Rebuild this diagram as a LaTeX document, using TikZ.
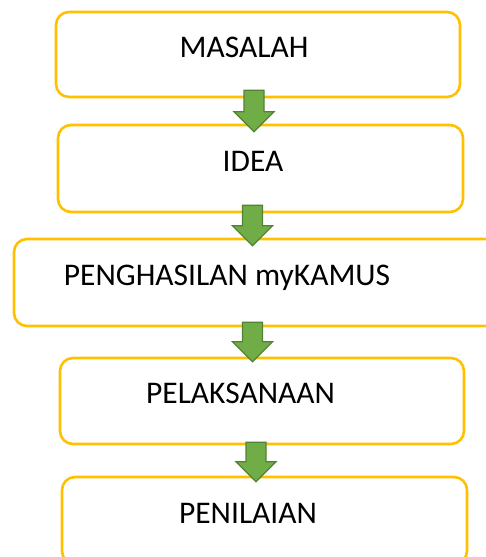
\documentclass[tikz,border=0pt]{standalone}
\usepackage{fontspec}
\setmainfont{Carlito}
\usetikzlibrary{calc}
\definecolor{boxline}{RGB}{255, 192, 0}
\definecolor{arrowfill}{RGB}{112, 173, 71}
\definecolor{arrowline}{RGB}{84, 130, 53}
\tikzstyle{stepbox} = [rectangle, rounded corners=13pt, draw=boxline, line width=2.6pt, fill=white, text centered, text height=20pt, text depth=0pt, font=\fontsize{31.5}{38}\selectfont]
\tikzstyle{blockarrow} = [fill=arrowfill, draw=arrowline, line width=1.3pt, line join=miter]
% text inside a box: x offset, raise, text
\newcommand{\steptext}[3]{\raisebox{#2pt}{\hspace*{#1pt}\hspace*{#1pt}#3}}
% block arrow: from node, to node, x, overlap at top, overlap at tip
\newcommand{\flowarrow}[5]{%
  \draw[blockarrow] let \p1 = (#1.south), \p2 = (#2.north) in
    (#3pt-10pt, \y1+#4pt) -- (#3pt+10pt, \y1+#4pt) -- (#3pt+10pt, \y2-#5pt+20pt)
    -- (#3pt+20pt, \y2-#5pt+20pt) -- (#3pt, \y2-#5pt) -- (#3pt-20pt, \y2-#5pt+20pt)
    -- (#3pt-10pt, \y2-#5pt+20pt) -- cycle;}

\begin{document}
\begin{tikzpicture}[x=1pt, y=-1pt]
    \useasboundingbox (0,0) rectangle (486,557);
    \clip (0,0) rectangle (486,557);

    % Masalah
    \node[stepbox, minimum width=404pt, minimum height=85pt] (masalah) at (258,54.5) {\steptext{-14}{7.5}{MASALAH}};

    % Idea
    \node[stepbox, minimum width=405pt, minimum height=87pt] (idea) at (260.5,168.5) {\steptext{-7.5}{7.5}{IDEA}};

    % Penghasilan
    \node[stepbox, minimum width=492pt, minimum height=87pt] (penghasilan) at (260,282.5) {\steptext{-33}{7.5}{PENGHASILAN myKAMUS}};

    % Pelaksanaan
    \node[stepbox, minimum width=404pt, minimum height=86pt] (pelaksanaan) at (262,401) {\steptext{-21.5}{8}{PELAKSANAAN}};

    % Penilaian
    \node[stepbox, minimum width=405pt, minimum height=87pt] (penilaian) at (264.5,520.5) {\steptext{-16.5}{7.5}{PENILAIAN}};

    % Arrows
    \flowarrow{masalah}{idea}{254}{8}{8}
    \flowarrow{idea}{penghasilan}{252.5}{8}{8}
    \flowarrow{penghasilan}{pelaksanaan}{252.5}{5}{5}
    \flowarrow{pelaksanaan}{penilaian}{256}{3}{6}
\end{tikzpicture}
\end{document}
